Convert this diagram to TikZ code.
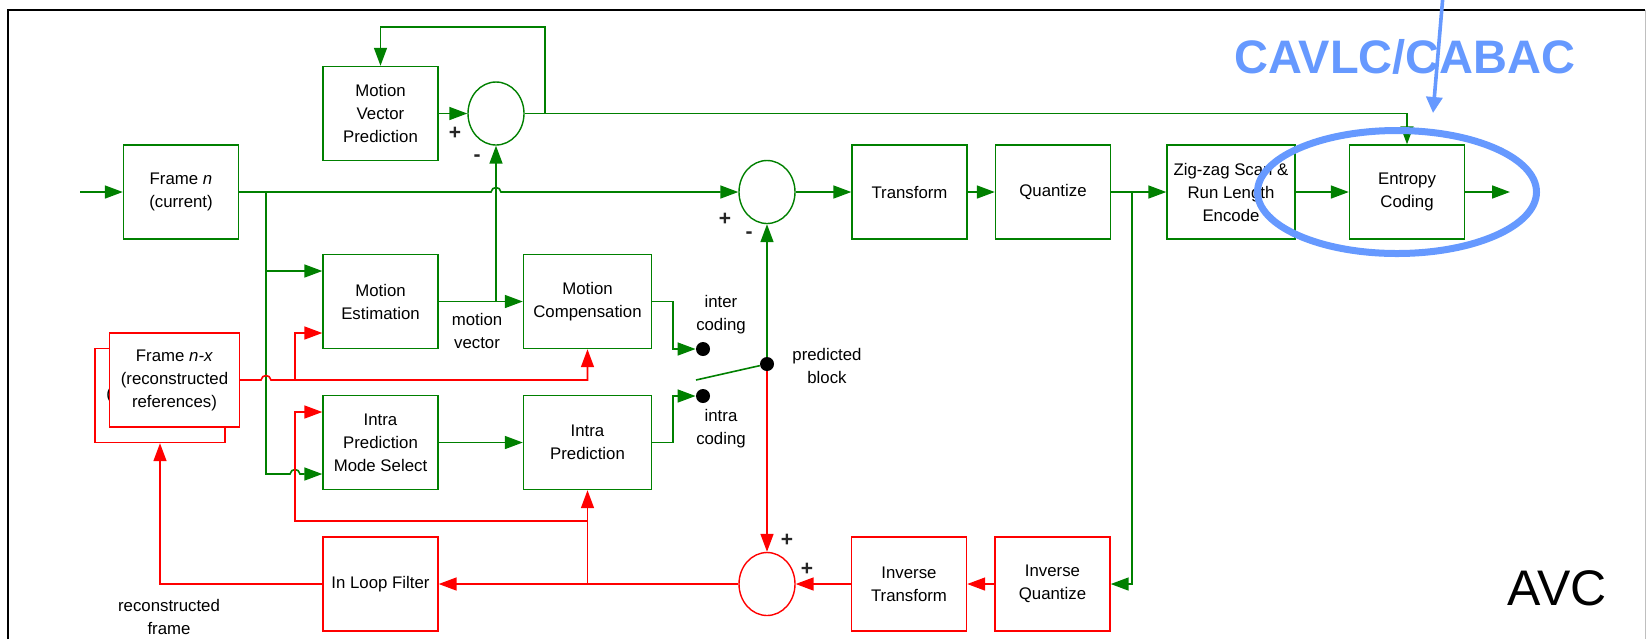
\documentclass[tikz,border=0pt]{standalone}
\usepackage{fontspec}
\setmainfont{Liberation Sans}
\usetikzlibrary{positioning,arrows.meta,shapes.geometric}
\definecolor{avcgreen}{RGB}{0,128,0}
\definecolor{avcred}{RGB}{255,0,0}
\definecolor{avcblue}{RGB}{102,153,255}
\newcommand{\boxfont}{\fontsize{8.4}{11.5}\selectfont}

\begin{document}
\begin{tikzpicture}[x=0.5pt,y=-0.5pt,
  blk/.style={draw=avcgreen,line width=0.7pt,fill=white,minimum width=57.5pt,minimum height=47pt,inner sep=1pt,align=center,font=\boxfont},
  wblk/.style={blk,minimum width=64pt},
  rblk/.style={blk,draw=avcred},
  adder/.style={ellipse,draw=avcgreen,line width=0.7pt,minimum width=28pt,minimum height=31.5pt,inner sep=0pt},
  tap/.style={circle,fill=black,minimum size=7pt,inner sep=0pt},
  lbl/.style={font=\boxfont,align=center},
  sgn/.style={font=\bfseries\fontsize{10.5}{10.5}\selectfont,text=black!85},
  gline/.style={draw=avcgreen,line width=0.8pt},
  garr/.style={gline,-{Triangle[length=9pt,width=6.5pt]}},
  rline/.style={draw=avcred,line width=0.8pt},
  rarr/.style={rline,-{Triangle[length=9pt,width=6.5pt]}}]
\useasboundingbox (0,0) rectangle (1648,639);
\draw[line width=1pt] (8,639) -- (8,10) -- (1645,10);
\draw[black!25,line width=0.5pt] (1645,10) -- (1645,639);

% blocks
\node[blk] (fn) at (181,192) {Frame \textit{n}\\(current)};
\node[blk] (mvp) at (380.5,113.5) {Motion\\Vector\\Prediction};
\node[adder] (mvs) at (496,113.5) {};
\node[adder] (sum) at (767,192) {};
\node[blk] (tr) at (909.5,192) {Transform};
\node[blk] (qz) at (1053,192) {Quantize};
\node[wblk] (zz) at (1231,192) {Zig-zag Scan \&\\Run Length\\Encode};
\node[blk] (ec) at (1407,192) {Entropy\\Coding};
\node[blk] (me) at (380.5,301.5) {Motion\\Estimation};
\node[wblk] (mc) at (587.5,301.5) {Motion\\Compensation};
\node[rblk,minimum width=65pt] (fxb) at (160,395.5) {Frame \textit{n-x}\\(reconstructed\\references)};
\node[rblk,minimum width=65pt] (fx) at (174.5,380) {Frame \textit{n-x}\\(reconstructed\\references)};
\node[blk] (ipms) at (380.5,442.5) {Intra\\Prediction\\Mode Select};
\node[wblk] (ip) at (587.5,442.5) {Intra\\Prediction};
\node[tap] (inter) at (703,349) {};
\node[tap] (intra) at (703,396) {};
\node[tap] (pb) at (767,364) {};
\node[rblk] (ilf) at (380.5,584) {In Loop Filter};
\node[adder,draw=avcred] (rsum) at (767,584) {};
\node[rblk] (itr) at (909,584) {Inverse\\Transform};
\node[rblk] (iqz) at (1052.5,584) {Inverse\\Quantize};

% forward path
\coordinate (src) at (80,192);
\coordinate (out) at (1510,192);
\draw[garr] (src) -- (fn);
\draw[garr] (fn.east) -- (491,192) .. controls (492,186) and (500,186) .. (501,192) -- (sum.west);
\draw[garr] (sum) -- (tr);
\draw[garr] (tr) -- (qz);
\draw[garr] (qz) -- (zz);
\draw[garr] (zz) -- (ec);
\draw[garr] (ec) -- (out);

% motion vectors
\draw[garr] (mvp) -- (mvs);
\draw[garr] (mvs.east) -| (545,27) -| (mvp.north);
\draw[garr] (mvs.east) -| (ec.north);
\coordinate (mvtap) at (496,301.5);
\draw[garr] (mvtap) -- (mvs.south);

% current frame to estimation
\coordinate (fb) at (266,192);
\draw[garr] (fb) |- ([yshift=15.25pt]me.west);
\draw[garr] (fb) -- (266,474) -- (290,474) .. controls (291,468) and (299,468) .. (300,474) -- ([yshift=-15.75pt]ipms.west);
\draw[garr] (me) -- (mc);
\draw[garr] (ipms) -- (ip);

% switch
\draw[garr] (mc.east) -- ++(21,0) |- (inter);
\draw[garr] (ip.east) -- ++(21,0) |- (intra);
\coordinate (swend) at (696,380);
\draw[gline] (swend) -- (pb);
\draw[garr] (pb) -- (sum.south);
\draw[rarr] (pb) -- (rsum.north);

% reconstruction loop
\coordinate (qb) at (1132,192);
\draw[garr] (qb) |- (iqz.east);
\draw[rarr] (iqz) -- (itr);
\draw[rarr] (itr) -- (rsum);
\draw[rarr] (rsum) -- (ilf);
\coordinate (rj) at (587.5,584);
\coordinate (rk) at (587.5,521);
\draw[rarr] (rj) -- (ip.south);
\draw[rarr] (rk) -- (295,521) |- ([yshift=15.25pt]ipms.west);
\draw[rarr] (ilf.west) -| (fxb.south);

% reference frames
\draw[rarr] (fx.east) -- (261,380) .. controls (262,374) and (270,374) .. (271,380) -| (mc.south);
\coordinate (rb) at (295,380);
\draw[rarr] (rb) |- ([yshift=-15.75pt]me.west);

% labels
\node[sgn] (p1) at (455,133) {+};
\node[sgn] (m1) at (477,158) {-};
\node[sgn] (p2) at (725,219) {+};
\node[sgn] (m2) at (749,235) {-};
\node[sgn] (p3) at (787,540) {+};
\node[sgn] (p4) at (807,569) {+};
\node[lbl] (mvlbl) at (477,331) {motion\\vector};
\node[lbl] (interlbl) at (721,315) {inter\\coding};
\node[lbl] (intralbl) at (721,429) {intra\\coding};
\node[lbl] (pblbl) at (827,366) {predicted\\block};
\node[lbl] (rflbl) at (169,617) {reconstructed\\frame};
\node[font=\fontsize{25}{30}\selectfont] (avc) at (1557,588) {AVC};

% highlight
\node[font=\bfseries\fontsize{23.5}{28}\selectfont,text=avcblue] (cabac) at (1405,57) {CAVLC/CABAC};
\node[ellipse,draw=avcblue,line width=3.5pt,minimum width=139.5pt,minimum height=61.5pt] (ring) at (1397,192) {};
\coordinate (ptrtop) at (1443,-5);
\coordinate (ptrtip) at (1433,113);
\draw[avcblue,line width=1.8pt,-{Triangle[length=8pt,width=8pt]}] (ptrtop) -- (ptrtip);
\end{tikzpicture}
\end{document}
